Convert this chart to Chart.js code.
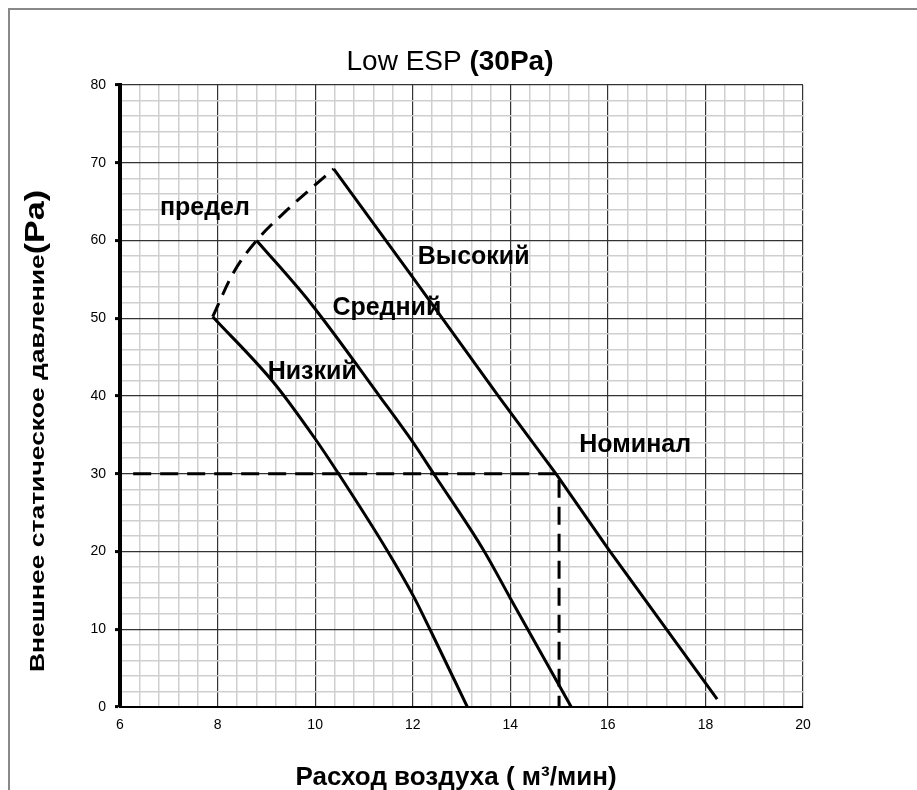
<!DOCTYPE html>
<html>
<head>
<meta charset="utf-8">
<script src="https://cdn.jsdelivr.net/npm/chart.js@4/dist/chart.umd.min.js"></script>
<style>
  html, body { margin: 0; padding: 0; background: #fff; }
  #wrap { width: 917px; height: 790px; position: relative; }
</style>
</head>
<body>
<div id="wrap"><canvas id="c" width="917" height="790"></canvas></div>
<script>
// ---- data ----
const lowX  = [7.9, 9.14, 10.0, 10.48, 11.47, 12.02, 12.36, 13.12];
const lowY  = [50.2, 41.8, 34.5, 30.0, 20.2, 14.2, 9.9, 0.0];

const midX  = [8.8, 9.9, 11.33, 12.02, 12.43, 13.45, 14.0, 15.25];
const midY  = [60.0, 52.0, 39.9, 33.9, 30.0, 20.2, 14.0, 0.0];

const highX = [10.38, 12.02, 13.79, 14.96, 16.01, 18.24];
const highY = [69.2, 55.1, 39.7, 29.8, 20.3, 1.0];

const limitX = [7.9, 8.32, 8.8, 9.42, 10.38];
const limitY = [50.2, 55.8, 60.0, 63.9, 69.2];

const nominalX = [6.27, 15.0, 15.0];
const nominalY = [30.0, 30.0, 0.0];

const curveLabels = ['предел', 'Высокий', 'Средний', 'Низкий', 'Номинал'];
const curveLabelX = [7.74, 13.25, 11.47, 9.94, 16.56];
const curveLabelY = [64.2, 57.9, 51.3, 43.1, 33.7];

const titleNormal = 'Low ESP ';
const titleBold = '(30Pa)';
const yTitleMain = 'Внешнее статическое давление';
const yTitleUnit = '(Pa)';
const xTitle = 'Расход воздуха ( м³/мин)';

const xMin = 6, xMax = 20, xMinorStep = 0.4, xMajorStep = 2;
const yMin = 0, yMax = 80, yMinorStep = 2, yMajorStep = 10;

// ---- helpers ----
const pts = (xs, ys) => xs.map((v, i) => ({ x: v, y: ys[i] }));
const isMajor = (v, step) => Math.abs(v / step - Math.round(v / step)) < 1e-6;
const FONT = "Arial, 'Liberation Sans', sans-serif";

const textPlugin = {
  id: 'texts',
  beforeDraw(chart) {
    const ctx = chart.ctx;
    ctx.save();
    ctx.fillStyle = '#fff';
    ctx.fillRect(0, 0, chart.width, chart.height);
    ctx.strokeStyle = '#888';
    ctx.lineWidth = 2;
    ctx.beginPath();
    ctx.moveTo(9, chart.height);
    ctx.lineTo(9, 9);
    ctx.lineTo(chart.width, 9);
    ctx.stroke();
    ctx.restore();
  },
  afterDraw(chart) {
    const { ctx, scales } = chart;
    const xs = scales.x, ys = scales.y;
    ctx.save();
    ctx.fillStyle = '#000';
    // curve labels
    ctx.font = 'bold 25px ' + FONT;
    ctx.textAlign = 'center';
    ctx.textBaseline = 'middle';
    curveLabels.forEach((t, i) => {
      ctx.fillText(t, xs.getPixelForValue(curveLabelX[i]), ys.getPixelForValue(curveLabelY[i]));
    });
    // main title (mixed weight)
    ctx.textAlign = 'left';
    ctx.textBaseline = 'alphabetic';
    const fN = '28px ' + FONT, fB = 'bold 28px ' + FONT;
    ctx.font = fN; const wN = ctx.measureText(titleNormal).width;
    ctx.font = fB; const wB = ctx.measureText(titleBold).width;
    const tcx = 450, tby = 70;
    const sx = tcx - (wN + wB) / 2;
    ctx.font = fN; ctx.fillText(titleNormal, sx, tby);
    ctx.font = fB; ctx.fillText(titleBold, sx + wN, tby);
    // x axis title
    ctx.font = 'bold 26px ' + FONT;
    ctx.textAlign = 'center';
    ctx.fillText(xTitle, 456, 785);
    // y axis title (rotated, mixed size)
    const fM = 'bold 21px ' + FONT, fU = 'bold 27px ' + FONT;
    ctx.font = fM; const wM = ctx.measureText(yTitleMain).width;
    ctx.font = fU; const wU = ctx.measureText(yTitleUnit).width;
    ctx.translate(44, 672);
    ctx.rotate(-Math.PI / 2);
    ctx.textAlign = 'left';
    const k = 482 / (wM + wU);
    ctx.scale(k, 1);
    ctx.font = fM; ctx.fillText(yTitleMain, 0, 0);
    ctx.font = fU; ctx.fillText(yTitleUnit, wM, 0);
    ctx.restore();
  }
};

const lineStyle = { showLine: true, borderColor: '#000', backgroundColor: '#000', borderWidth: 3, pointRadius: 0, fill: false };

new Chart(document.getElementById('c'), {
  type: 'scatter',
  data: {
    datasets: [
      Object.assign({ label: 'Низкий', data: pts(lowX, lowY), cubicInterpolationMode: 'monotone' }, lineStyle),
      Object.assign({ label: 'Средний', data: pts(midX, midY), cubicInterpolationMode: 'monotone' }, lineStyle),
      Object.assign({ label: 'Высокий', data: pts(highX, highY), tension: 0 }, lineStyle),
      Object.assign({ label: 'предел', data: pts(limitX, limitY), cubicInterpolationMode: 'monotone', borderDash: [15, 9] }, lineStyle),
      Object.assign({ label: 'Номинал', data: pts(nominalX, nominalY), tension: 0, borderDash: [18, 9] }, lineStyle)
    ]
  },
  options: {
    responsive: false,
    animation: false,
    events: [],
    layout: { padding: { left: 0, top: 85, right: 114, bottom: 0 } },
    plugins: { legend: { display: false }, tooltip: { enabled: false }, title: { display: false } },
    scales: {
      x: {
        type: 'linear', min: xMin, max: xMax,
        afterFit(s) { s.height = 83; },
        border: { display: true, color: '#000', width: 2 },
        grid: {
          drawTicks: false,
          color: c => isMajor(c.tick.value, xMajorStep) ? '#333' : '#cfcfcf',
          lineWidth: c => isMajor(c.tick.value, xMajorStep) ? 1.2 : 1.5
        },
        ticks: {
          stepSize: xMinorStep, maxTicksLimit: 200, autoSkip: false, maxRotation: 0, padding: 10,
          color: '#000', font: { family: FONT, size: 14 },
          callback: v => isMajor(v, xMajorStep) ? String(Math.round(v)) : ''
        }
      },
      y: {
        type: 'linear', min: yMin, max: yMax,
        afterFit(s) { s.width = 120; },
        border: { display: true, color: '#000', width: 4 },
        grid: {
          drawTicks: true, tickLength: 5, tickWidth: 3,
          tickColor: c => isMajor(c.tick.value, yMajorStep) ? '#000' : 'rgba(0,0,0,0)',
          color: c => isMajor(c.tick.value, yMajorStep) ? '#333' : '#cfcfcf',
          lineWidth: c => isMajor(c.tick.value, yMajorStep) ? 1.2 : 1.5
        },
        ticks: {
          stepSize: yMinorStep, maxTicksLimit: 200, autoSkip: false, padding: 9,
          color: '#000', font: { family: FONT, size: 14 },
          callback: v => isMajor(v, yMajorStep) ? String(Math.round(v)) : ''
        }
      }
    }
  },
  plugins: [textPlugin]
});
</script>
</body>
</html>
